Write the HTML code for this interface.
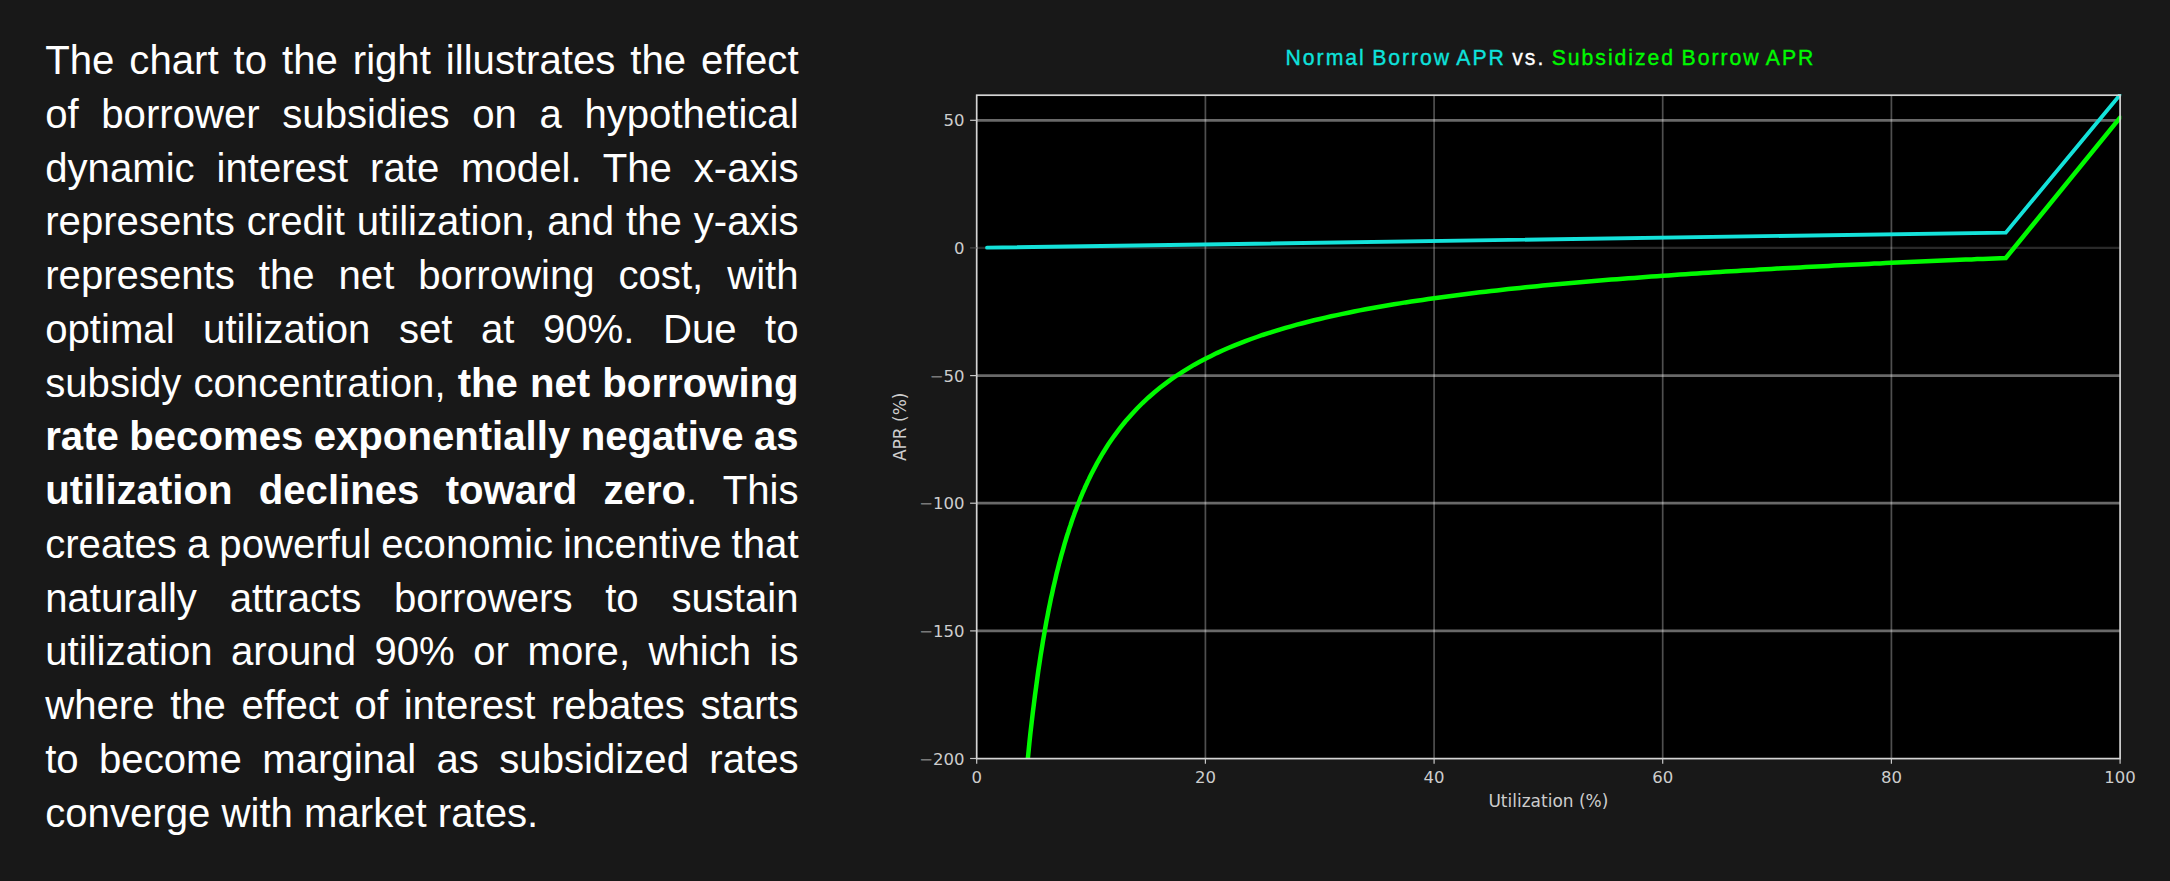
<!DOCTYPE html>
<html lang="en">
<head>
<meta charset="utf-8">
<title>Normal Borrow APR vs. Subsidized Borrow APR</title>
<style>
html,body{margin:0;padding:0;}
body{width:2170px;height:881px;background:#181818;overflow:hidden;position:relative;
  font-family:"Liberation Sans",sans-serif;}
#copy{position:absolute;left:45.2px;top:34.0px;width:753.4px;color:#fff;
  font-size:40.15px;line-height:53.75px;}
#copy .ln{display:block;height:53.75px;white-space:nowrap;}
#copy b{font-weight:700;}
#title{position:absolute;left:1285.6px;top:44.6px;font-size:21.2px;line-height:26px;
  letter-spacing:1.97px;word-spacing:-1.4px;white-space:nowrap;color:#fff;-webkit-text-stroke:0.35px currentColor;}
#title .c{color:#0ee2dc;}
#title .g{color:#00fa00;}
#chart{position:absolute;left:0;top:0;}
#chart text{font-family:"DejaVu Sans",sans-serif;font-size:16.5px;fill:#cdcdcd;}
</style>
</head>
<body>
<div id="copy">
<span class="ln" style="word-spacing:3.82px">The chart to the right illustrates the effect</span>
<span class="ln" style="word-spacing:11.45px">of borrower subsidies on a hypothetical</span>
<span class="ln" style="word-spacing:10.72px">dynamic interest rate model. The x-axis</span>
<span class="ln" style="word-spacing:0.75px">represents credit utilization, and the y-axis</span>
<span class="ln" style="word-spacing:12.79px">represents the net borrowing cost, with</span>
<span class="ln" style="word-spacing:17.35px">optimal utilization set at 90%. Due to</span>
<span class="ln" style="word-spacing:0.97px">subsidy concentration, <b>the net borrowing</b></span>
<span class="ln" style="word-spacing:-0.73px"><b>rate becomes exponentially negative as</b></span>
<span class="ln" style="word-spacing:15.12px"><b>utilization declines toward zero</b>. This</span>
<span class="ln" style="word-spacing:-1.05px">creates a powerful economic incentive that</span>
<span class="ln" style="word-spacing:21.58px">naturally attracts borrowers to sustain</span>
<span class="ln" style="word-spacing:7.32px">utilization around 90% or more, which is</span>
<span class="ln" style="word-spacing:4.46px">where the effect of interest rebates starts</span>
<span class="ln" style="word-spacing:9.22px">to become marginal as subsidized rates</span>
<span class="ln">converge with market rates.</span>
</div>
<div id="title"><span class="c">Normal Borrow APR</span> vs. <span class="g">Subsidized Borrow APR</span></div>
<svg id="chart" width="2170" height="881" viewBox="0 0 2170 881">
<defs><clipPath id="ax"><rect x="976.7" y="93.95" width="1144.60" height="664.55"/></clipPath></defs>
<rect x="976.7" y="95.2" width="1143.3999999999999" height="663.4" fill="#000"/>
<line x1="1205.4" x2="1205.4" y1="95.2" y2="758.5" stroke="#fff" stroke-opacity="0.31" stroke-width="1.7"/>
<line x1="1434.1" x2="1434.1" y1="95.2" y2="758.5" stroke="#fff" stroke-opacity="0.31" stroke-width="1.7"/>
<line x1="1662.7" x2="1662.7" y1="95.2" y2="758.5" stroke="#fff" stroke-opacity="0.31" stroke-width="1.7"/>
<line x1="1891.4" x2="1891.4" y1="95.2" y2="758.5" stroke="#fff" stroke-opacity="0.31" stroke-width="1.7"/>
<line x1="976.7" x2="2120.1" y1="120.3" y2="120.3" stroke="#fff" stroke-opacity="0.41" stroke-width="2.7"/>
<line x1="976.7" x2="2120.1" y1="375.6" y2="375.6" stroke="#fff" stroke-opacity="0.41" stroke-width="2.7"/>
<line x1="976.7" x2="2120.1" y1="503.2" y2="503.2" stroke="#fff" stroke-opacity="0.41" stroke-width="2.7"/>
<line x1="976.7" x2="2120.1" y1="630.9" y2="630.9" stroke="#fff" stroke-opacity="0.41" stroke-width="2.7"/>
<line x1="976.7" x2="2120.1" y1="247.9" y2="247.9" stroke="#fff" stroke-opacity="0.16" stroke-width="2.2"/>
<g clip-path="url(#ax)" fill="none" stroke-linejoin="miter" stroke-linecap="round">
<path d="M1024.7,791.2 L1025.9,778.5 L1027.0,766.5 L1028.2,754.9 L1029.3,743.8 L1030.4,733.3 L1031.6,723.1 L1032.7,713.4 L1033.9,704.0 L1035.0,695.1 L1036.2,686.4 L1037.3,678.1 L1038.4,670.1 L1039.6,662.4 L1040.7,655.0 L1041.9,647.8 L1043.0,640.9 L1044.2,634.2 L1045.3,627.7 L1046.4,621.4 L1047.6,615.4 L1048.7,609.5 L1049.9,603.8 L1051.0,598.3 L1052.2,593.0 L1053.3,587.8 L1054.5,582.8 L1055.6,577.9 L1056.7,573.1 L1057.9,568.5 L1059.0,564.0 L1060.2,559.7 L1061.3,555.4 L1062.5,551.3 L1063.6,547.3 L1064.7,543.3 L1065.9,539.5 L1067.0,535.8 L1068.2,532.2 L1069.3,528.6 L1070.5,525.2 L1071.6,521.8 L1072.7,518.5 L1073.9,515.3 L1075.0,512.1 L1076.2,509.1 L1077.3,506.1 L1078.5,503.1 L1079.6,500.2 L1080.7,497.4 L1081.9,494.7 L1083.0,492.0 L1084.2,489.4 L1085.3,486.8 L1086.5,484.3 L1087.6,481.8 L1088.8,479.4 L1089.9,477.0 L1091.0,474.7 L1096.8,463.7 L1102.5,453.7 L1108.2,444.6 L1113.9,436.3 L1119.6,428.6 L1125.3,421.5 L1131.1,414.9 L1136.8,408.7 L1142.5,403.0 L1148.2,397.7 L1153.9,392.7 L1159.6,388.0 L1165.4,383.6 L1171.1,379.4 L1176.8,375.5 L1182.5,371.8 L1188.2,368.3 L1193.9,364.9 L1199.7,361.8 L1205.4,358.7 L1211.1,355.9 L1216.8,353.1 L1222.5,350.5 L1228.2,348.0 L1234.0,345.6 L1239.7,343.3 L1245.4,341.1 L1251.1,339.0 L1256.8,337.0 L1262.5,335.0 L1268.3,333.2 L1274.0,331.4 L1279.7,329.6 L1285.4,327.9 L1291.1,326.3 L1296.9,324.7 L1302.6,323.2 L1308.3,321.8 L1314.0,320.3 L1319.7,319.0 L1325.4,317.6 L1331.2,316.3 L1336.9,315.1 L1342.6,313.9 L1348.3,312.7 L1354.0,311.5 L1359.7,310.4 L1365.5,309.3 L1371.2,308.3 L1376.9,307.2 L1382.6,306.2 L1388.3,305.2 L1394.0,304.3 L1399.8,303.4 L1405.5,302.4 L1411.2,301.6 L1416.9,300.7 L1422.6,299.9 L1428.3,299.0 L1434.1,298.2 L1439.8,297.4 L1445.5,296.7 L1451.2,295.9 L1456.9,295.2 L1462.6,294.4 L1468.4,293.7 L1474.1,293.0 L1479.8,292.3 L1485.5,291.7 L1491.2,291.0 L1496.9,290.4 L1502.7,289.7 L1508.4,289.1 L1514.1,288.5 L1519.8,287.9 L1525.5,287.3 L1531.2,286.8 L1537.0,286.2 L1542.7,285.6 L1548.4,285.1 L1554.1,284.6 L1559.8,284.0 L1565.6,283.5 L1571.3,283.0 L1577.0,282.5 L1582.7,282.0 L1588.4,281.5 L1594.1,281.0 L1599.9,280.5 L1605.6,280.1 L1611.3,279.6 L1617.0,279.2 L1622.7,278.7 L1628.4,278.3 L1634.2,277.9 L1639.9,277.4 L1645.6,277.0 L1651.3,276.6 L1657.0,276.2 L1662.7,275.8 L1668.5,275.4 L1674.2,275.0 L1679.9,274.6 L1685.6,274.2 L1691.3,273.8 L1697.0,273.4 L1702.8,273.1 L1708.5,272.7 L1714.2,272.3 L1719.9,272.0 L1725.6,271.6 L1731.3,271.3 L1737.1,270.9 L1742.8,270.6 L1748.5,270.3 L1754.2,269.9 L1759.9,269.6 L1765.6,269.3 L1771.4,268.9 L1777.1,268.6 L1782.8,268.3 L1788.5,268.0 L1794.2,267.7 L1799.9,267.4 L1805.7,267.1 L1811.4,266.8 L1817.1,266.5 L1822.8,266.2 L1828.5,265.9 L1834.2,265.6 L1840.0,265.3 L1845.7,265.0 L1851.4,264.7 L1857.1,264.5 L1862.8,264.2 L1868.6,263.9 L1874.3,263.6 L1880.0,263.4 L1885.7,263.1 L1891.4,262.8 L1897.1,262.6 L1902.9,262.3 L1908.6,262.1 L1914.3,261.8 L1920.0,261.6 L1925.7,261.3 L1931.4,261.1 L1937.2,260.8 L1942.9,260.6 L1948.6,260.3 L1954.3,260.1 L1960.0,259.8 L1965.7,259.6 L1971.5,259.4 L1977.2,259.1 L1982.9,258.9 L1988.6,258.7 L1994.3,258.4 L2000.0,258.2 L2005.8,258.0 L2120.1,117.6" stroke="#00fa00" stroke-width="4.5"/>
<path d="M987.0,247.7 L2005.8,232.6 L2120.1,94.7" stroke="#14e2da" stroke-width="3.8"/>
</g>
<rect x="976.7" y="95.2" width="1143.3999999999999" height="663.4" fill="none" stroke="#d4d4d4" stroke-width="1.7"/>
<line x1="976.7" x2="976.7" y1="758.5" y2="763.7" stroke="#c8c8c8" stroke-width="1.2"/>
<text x="976.7" y="783.1" text-anchor="middle">0</text>
<line x1="1205.4" x2="1205.4" y1="758.5" y2="763.7" stroke="#c8c8c8" stroke-width="1.2"/>
<text x="1205.4" y="783.1" text-anchor="middle">20</text>
<line x1="1434.1" x2="1434.1" y1="758.5" y2="763.7" stroke="#c8c8c8" stroke-width="1.2"/>
<text x="1434.1" y="783.1" text-anchor="middle">40</text>
<line x1="1662.7" x2="1662.7" y1="758.5" y2="763.7" stroke="#c8c8c8" stroke-width="1.2"/>
<text x="1662.7" y="783.1" text-anchor="middle">60</text>
<line x1="1891.4" x2="1891.4" y1="758.5" y2="763.7" stroke="#c8c8c8" stroke-width="1.2"/>
<text x="1891.4" y="783.1" text-anchor="middle">80</text>
<line x1="2120.1" x2="2120.1" y1="758.5" y2="763.7" stroke="#c8c8c8" stroke-width="1.2"/>
<text x="2120.1" y="783.1" text-anchor="middle">100</text>
<line x1="970.1" x2="976.7" y1="120.3" y2="120.3" stroke="#c8c8c8" stroke-width="1.2"/>
<text x="964.5" y="126.4" text-anchor="end">50</text>
<line x1="970.1" x2="976.7" y1="247.9" y2="247.9" stroke="#4a4a4a" stroke-width="1.2"/>
<text x="964.5" y="254.0" text-anchor="end">0</text>
<line x1="970.1" x2="976.7" y1="375.6" y2="375.6" stroke="#c8c8c8" stroke-width="1.2"/>
<text x="964.5" y="381.7" text-anchor="end"><tspan fill-opacity="0.55">−</tspan>50</text>
<line x1="970.1" x2="976.7" y1="503.2" y2="503.2" stroke="#c8c8c8" stroke-width="1.2"/>
<text x="964.5" y="509.3" text-anchor="end"><tspan fill-opacity="0.55">−</tspan>100</text>
<line x1="970.1" x2="976.7" y1="630.9" y2="630.9" stroke="#c8c8c8" stroke-width="1.2"/>
<text x="964.5" y="637.0" text-anchor="end"><tspan fill-opacity="0.55">−</tspan>150</text>
<line x1="970.1" x2="976.7" y1="758.5" y2="758.5" stroke="#c8c8c8" stroke-width="1.2"/>
<text x="964.5" y="764.6" text-anchor="end"><tspan fill-opacity="0.55">−</tspan>200</text>
<text x="1548.4" y="807.4" text-anchor="middle" style="font-size:17px">Utilization (%)</text>
<text transform="translate(906.2,426.8) rotate(-90)" text-anchor="middle" style="font-size:17px">APR (%)</text>
</svg>
</body>
</html>
